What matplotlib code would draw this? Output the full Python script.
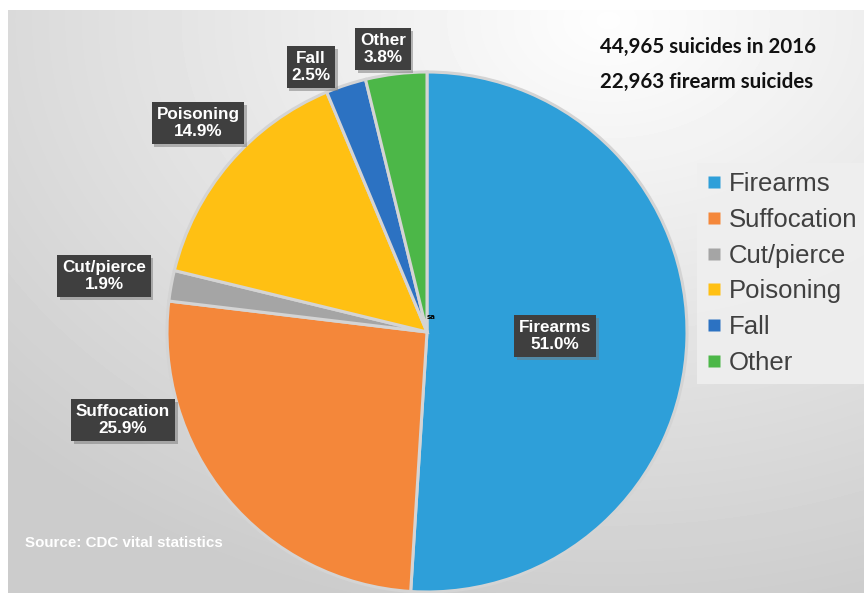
import numpy as np
import matplotlib
matplotlib.use("Agg")
import matplotlib.pyplot as plt
from matplotlib.lines import Line2D
import matplotlib.patheffects as pe

# data
causes = ["Firearms", "Suffocation", "Cut/pierce", "Poisoning", "Fall", "Other"]
shares = [51.0, 25.9, 1.9, 14.9, 2.5, 3.8]
colors = ["#2E9FD9", "#F4873A", "#A5A5A5", "#FFC013", "#2C72C2", "#4CB748"]
headline = ["44,965 suicides in 2016", "22,963 firearm suicides"]
source = "Source: CDC vital statistics"

# label box centres in pixel coords (image y measured from top)
label_pos = [(555, 336), (123, 420), (104, 276), (198, 123), (311, 67), (383, 49)]

W, H = 864, 593

fig = plt.figure(figsize=(W / 100, H / 100), dpi=100)
fig.patch.set_facecolor("white")
ax = fig.add_axes([0, 0, 1, 1])

# grey gradient background (white margin on left and top)
yy, xx = np.mgrid[0:H - 10, 0:W - 8]
d = np.hypot((xx - 600) / 850.0, (yy - 10) / 620.0)
bg = np.clip(0.995 - 0.2 * d, 0.8, 1.0)
ax.imshow(bg, cmap="gray", vmin=0, vmax=1, extent=[8, W, 0, H - 10],
          origin="upper", zorder=0, aspect="auto", interpolation="bilinear")

ax.pie(shares, colors=colors, startangle=90, counterclock=False,
       center=(427, H - 332), radius=260,
       wedgeprops=dict(edgecolor="#d4d4d4", linewidth=2.2, zorder=2))

ax.set_xlim(0, W)
ax.set_ylim(0, H)
ax.set_aspect("equal")
ax.axis("off")

for name, val, (px, py) in zip(causes, shares, label_pos):
    t = ax.text(px, H - py, f"{name}\n{val:.1f}%", ha="center", va="center",
                fontsize=12.3, fontweight="bold", family="Liberation Sans",
                color="white", linespacing=1.2, zorder=5,
                bbox=dict(boxstyle="square,pad=0.28", fc="#3f3f3f", ec="none"))
    t.get_bbox_patch().set_path_effects(
        [pe.SimplePatchShadow(offset=(2, -2), shadow_rgbFace="#777777", alpha=0.5),
         pe.Normal()])

ax.text(431, H - 317, "sa", fontsize=5, fontweight="bold", ha="center",
        va="center", color="black", zorder=6)

ax.text(600, H - 47, headline[0], fontsize=14.8, fontweight="bold",
        family="Lato", ha="left", va="center", color="#111111")
ax.text(600, H - 82, headline[1], fontsize=14.8, fontweight="bold",
        family="Lato", ha="left", va="center", color="#111111")

ax.text(25, H - 543, source, fontsize=10.9, fontweight="bold",
        family="Liberation Sans", color="white", ha="left", va="center")

handles = [Line2D([], [], marker="s", linestyle="none", markersize=9,
                  markerfacecolor=c, markeredgecolor="none") for c in colors]
leg = ax.legend(handles, causes, loc="upper left",
                bbox_to_anchor=(697 / W, 1 - 163 / H), borderaxespad=0,
                frameon=True, fancybox=False, handlelength=0.6,
                handletextpad=0.3, labelspacing=0.46, borderpad=0.35,
                prop=dict(family="Liberation Sans", size=18.5))
leg.get_frame().set_facecolor("#efefef")
leg.get_frame().set_edgecolor("none")
leg.get_frame().set_alpha(0.9)
for t in leg.get_texts():
    t.set_color("#404040")

fig.savefig("out.png", dpi=100)
